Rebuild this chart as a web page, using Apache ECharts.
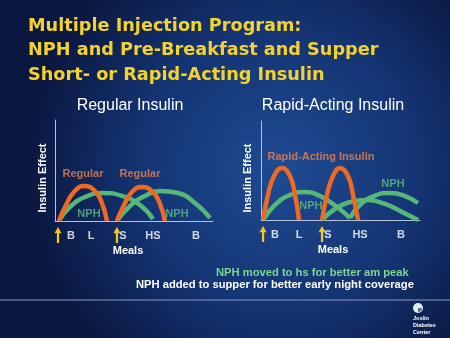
<!DOCTYPE html>
<html>
<head>
<meta charset="utf-8">
<style>
html,body{margin:0;padding:0;width:450px;height:338px;overflow:hidden;background:#0c1c4c;}
#c{width:450px;height:338px;}
</style>
<script src="https://cdn.jsdelivr.net/npm/echarts@6/dist/echarts.min.js"></script>
</head>
<body>
<div id="c"></div>
<script>
// ---------- DATA (x: time units 0-100 across each panel, y: insulin effect 0-100) ----------
var titleLines = ['Multiple Injection Program:', 'NPH and Pre-Breakfast and Supper', 'Short- or Rapid-Acting Insulin'];
var leftTitle = 'Regular Insulin';
var rightTitle = 'Rapid-Acting Insulin';
var yAxisName = 'Insulin Effect';
var xAxisName = 'Meals';

// Left panel
var leftRegular1 = [[2.5,0],[7,15.8],[12,28.7],[18.4,34.7],[25.3,29.7],[29.7,17.8],[32.9,0]];
var leftRegular2 = [[39.2,0],[43.7,15.8],[48.7,28.7],[55.1,33.7],[62,28.7],[66.5,16.8],[69.6,0]];
var leftNPH1 = [[2.5,0],[9.5,13.9],[19,23.8],[30.4,27.7],[42.4,24.8],[53.8,15.8],[62,2]];
var leftNPH2 = [[39.2,0],[47.5,14.9],[57,24.8],[66.5,29.7],[77.8,27.7],[88.6,17.8],[98.1,3]];
var leftMeals = [['B',10.1],['L',22.8],['S',43],['HS',62],['B',89.2]];
var leftInjections = [1.9, 39.2];
var leftLabels = [['Regular',17.7,46.5,'rapid'],['Regular',53.8,46.5,'rapid'],['NPH',21.5,6.9,'nph'],['NPH',77.2,6.9,'nph']];

// Right panel
var rightRapid1 = [[1.3,0],[4.4,25.3],[8.2,44.4],[13.2,52.5],[18.2,44.4],[21.4,25.3],[23.9,0]];
var rightRapid2 = [[38.4,0],[41.5,25.3],[45.3,44.4],[49.7,52.5],[54.7,44.4],[57.9,25.3],[61,0]];
var rightNPH1 = [[1.3,0],[8.8,15.2],[18.2,25.3],[27.7,28.3],[37.1,24.2],[47.8,13.1],[56,2]];
var rightNPH2 = [[38.4,0],[46.5,11.1],[56,18.2],[66.7,20.2],[78,16.2],[88.7,8.1],[98.7,0]];
var rightNPH3 = [[56,2],[62.3,15.2],[71.1,24.2],[81.1,27.3],[90.6,24.2],[98.7,17.2]];
var rightMeals = [['B',8.8],['L',23.9],['S',42.1],['HS',62.3],['B',88.1]];
var rightInjections = [1.3, 38.4];
var rightLabels = [['Rapid-Acting Insulin',37.7,63.6,'rapid'],['NPH',31.4,14.1,'nph'],['NPH',83,36.4,'nph']];

var notes = ['NPH moved to hs for better am peak', 'NPH added to supper for better early night coverage'];
var logoText = ['Joslin', 'Diabetes', 'Center'];

// ---------- STYLE ----------
var ORANGE = '#ee6a24';
var GREEN = '#55b878';
var ORANGE_T = '#f0834a';
var GREEN_T = '#5fbf82';
var AXIS = '#b8c2dc';
var YELLOW = '#f2c81e';
var FONT = '"Liberation Sans", Arial, sans-serif';

var chart = echarts.init(document.getElementById('c'), null, {renderer: 'canvas'});

function curve(data, color, gi) {
  return {type: 'line', xAxisIndex: gi, yAxisIndex: gi, data: data, smooth: 0.5,
    showSymbol: false, symbol: 'none', clip: false, silent: true,
    lineStyle: {color: color, width: 4.5, cap: 'butt'}, z: color === ORANGE ? 3 : 2};
}
var arrowPath = 'path://M5,0 L10,7 L6.6,7 L6.6,18 L3.4,18 L3.4,7 L0,7 Z';
function meals(list, injections, gi) {
  return {type: 'scatter', xAxisIndex: gi, yAxisIndex: gi, symbolSize: 0, silent: true, clip: false,
    data: list.map(function (m) { return {value: [m[1], 0], name: m[0]}; }),
    label: {show: true, position: 'bottom', distance: 9, formatter: function (p) { return p.name; },
      color: '#ffffff', fontFamily: FONT, fontWeight: 'bold', fontSize: 11},
    markPoint: {symbol: arrowPath, symbolSize: [7, 16], symbolOffset: [0, 14], silent: true,
      itemStyle: {color: YELLOW}, label: {show: false},
      data: injections.map(function (x) { return {coord: [x, 0]}; })}
  };
}
function labelSeries(list, gi) {
  return list.map(function (m) {
    return {type: 'scatter', xAxisIndex: gi, yAxisIndex: gi, symbolSize: 0, silent: true, clip: false, z: 5,
      data: [{value: [m[1], m[2]], name: m[0]}],
      label: {show: true, position: 'inside', formatter: function (p) { return p.name; },
        fontFamily: FONT, fontWeight: 'bold', fontSize: 11, color: m[3] === 'rapid' ? ORANGE_T : GREEN_T}};
  });
}
function axisX(gi) {
  return {type: 'value', gridIndex: gi, min: 0, max: 100,
    axisLine: {show: true, lineStyle: {color: AXIS, width: 1}}, axisTick: {show: false},
    axisLabel: {show: false}, splitLine: {show: false}};
}
function axisY(gi) {
  return {type: 'value', gridIndex: gi, min: 0, max: 100,
    axisLine: {show: true, lineStyle: {color: AXIS, width: 1}}, axisTick: {show: false},
    axisLabel: {show: false}, splitLine: {show: false}};
}

var series = [
  curve(leftNPH1, GREEN, 0), curve(leftNPH2, GREEN, 0),
  curve(leftRegular1, ORANGE, 0), curve(leftRegular2, ORANGE, 0),
  curve(rightNPH1, GREEN, 1), curve(rightNPH2, GREEN, 1), curve(rightNPH3, GREEN, 1),
  curve(rightRapid1, ORANGE, 1), curve(rightRapid2, ORANGE, 1),
  meals(leftMeals, leftInjections, 0), meals(rightMeals, rightInjections, 1)
].concat(labelSeries(leftLabels, 0)).concat(labelSeries(rightLabels, 1));

var graphics = [
  {type: 'text', left: 28, top: 14, style: {text: titleLines.join('\n'), fill: '#f4d22e',
    font: 'bold 17.7px "DejaVu Sans", sans-serif', lineHeight: 24.5}},
  {type: 'text', x: 130, y: 106, style: {text: leftTitle, fill: '#ffffff', font: '16px ' + FONT,
    textAlign: 'center', textVerticalAlign: 'middle'}},
  {type: 'text', x: 333, y: 106, style: {text: rightTitle, fill: '#ffffff', font: '16px ' + FONT,
    textAlign: 'center', textVerticalAlign: 'middle'}},
  {type: 'text', x: 43, y: 178, rotation: Math.PI / 2, style: {text: yAxisName, fill: '#ffffff',
    font: 'bold 11px ' + FONT, textAlign: 'center', textVerticalAlign: 'middle'}},
  {type: 'text', x: 248, y: 178, rotation: Math.PI / 2, style: {text: yAxisName, fill: '#ffffff',
    font: 'bold 11px ' + FONT, textAlign: 'center', textVerticalAlign: 'middle'}},
  {type: 'text', x: 128, y: 251, style: {text: xAxisName, fill: '#ffffff', font: 'bold 11px ' + FONT,
    textAlign: 'center', textVerticalAlign: 'middle'}},
  {type: 'text', x: 333, y: 250, style: {text: xAxisName, fill: '#ffffff', font: 'bold 11px ' + FONT,
    textAlign: 'center', textVerticalAlign: 'middle'}},
  {type: 'text', x: 216, y: 273, style: {text: notes[0], fill: '#7fd68e', font: 'bold 11.2px ' + FONT,
    textVerticalAlign: 'middle'}},
  {type: 'text', x: 136, y: 285, style: {text: notes[1], fill: '#ffffff', font: 'bold 11.2px ' + FONT,
    textVerticalAlign: 'middle'}},
  {type: 'line', shape: {x1: 0, y1: 300, x2: 450, y2: 300}, style: {stroke: '#8e94bc', lineWidth: 1}},
  {type: 'circle', shape: {cx: 418, cy: 308, r: 5}, style: {fill: '#e8ecf4'}},
  {type: 'sector', shape: {cx: 418, cy: 308, r: 4, r0: 0, startAngle: 0, endAngle: Math.PI / 2}, style: {fill: '#5a6c98'}},
  {type: 'text', x: 413, y: 315.5, style: {text: logoText.join('\n'), fill: '#ffffff',
    font: 'bold 5.5px ' + FONT, lineHeight: 6.8, textVerticalAlign: 'top'}}
];

chart.setOption({
  animation: false,
  backgroundColor: {type: 'radial', x: 0.62, y: 0.5, r: 0.75,
    colorStops: [{offset: 0, color: '#1f4b93'}, {offset: 0.55, color: '#143473'}, {offset: 1, color: '#0a173f'}]},
  grid: [
    {left: 55, width: 158, top: 120, height: 101, containLabel: false},
    {left: 261, width: 159, top: 121, height: 99, containLabel: false}
  ],
  xAxis: [axisX(0), axisX(1)],
  yAxis: [axisY(0), axisY(1)],
  series: series,
  graphic: graphics
});
</script>
</body>
</html>
